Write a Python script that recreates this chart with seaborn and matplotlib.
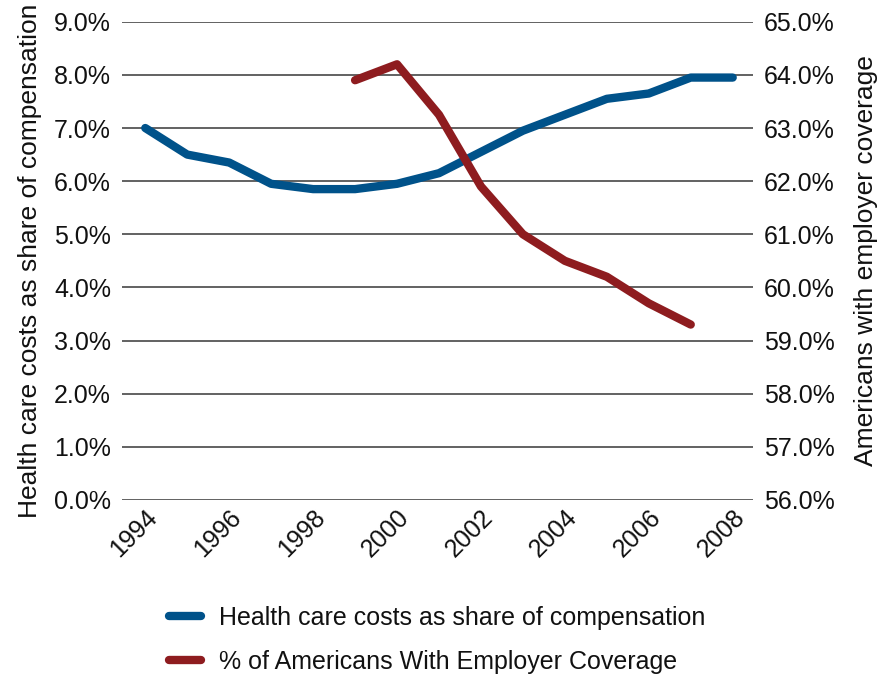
import matplotlib
matplotlib.use("Agg")
import matplotlib.pyplot as plt
import matplotlib.ticker as mticker
import seaborn as sns
import pandas as pd

# data
years = [1994, 1995, 1996, 1997, 1998, 1999, 2000, 2001, 2002, 2003, 2004, 2005, 2006, 2007, 2008]
health_costs = [7.0, 6.5, 6.35, 5.95, 5.85, 5.85, 5.95, 6.15, 6.55, 6.95, 7.25, 7.55, 7.65, 7.95, 7.95]
cov_years = [1999, 2000, 2001, 2002, 2003, 2004, 2005, 2006, 2007]
coverage = [63.9, 64.2, 63.25, 61.9, 61.0, 60.5, 60.2, 59.7, 59.3]
xticks = [1994, 1996, 1998, 2000, 2002, 2004, 2006, 2008]

blue = "#00528A"
red = "#8E1C1F"

sns.set_style("white")
plt.rcParams['font.family'] = ['Liberation Sans', 'DejaVu Sans']
plt.rcParams['text.color'] = '#111111'
plt.rcParams['axes.labelcolor'] = '#111111'
plt.rcParams['xtick.color'] = '#111111'
plt.rcParams['ytick.color'] = '#111111'
fs = 18

fig = plt.figure(figsize=(8.92, 6.81), dpi=100)
ax = fig.add_axes([0.137, 0.266, 0.707, 0.702])
ax2 = ax.twinx()

df1 = pd.DataFrame({'year': years, 'val': health_costs})
df2 = pd.DataFrame({'year': cov_years, 'val': coverage})

sns.lineplot(data=df1, x='year', y='val', ax=ax, color=blue, linewidth=6,
             solid_capstyle='round', solid_joinstyle='round',
             label='Health care costs as share of compensation', legend=False)
sns.lineplot(data=df2, x='year', y='val', ax=ax2, color=red, linewidth=6,
             solid_capstyle='round', solid_joinstyle='round',
             label='% of Americans With Employer Coverage', legend=False)

ax.set_ylim(0, 9)
ax2.set_ylim(56, 65)
ax.set_xlim(1993.45, 2008.48)
ax.set_yticks(range(0, 10))
ax2.set_yticks(range(56, 66))
ax.yaxis.set_major_formatter(mticker.FuncFormatter(lambda v, p: f"{v:.1f}%"))
ax2.yaxis.set_major_formatter(mticker.FuncFormatter(lambda v, p: f"{v:.1f}%"))
ax.set_xticks(xticks)
ax.set_xticklabels([str(y) for y in xticks], rotation=45, ha='right',
                   rotation_mode='anchor', fontsize=fs)

for a in (ax, ax2):
    for s in a.spines.values():
        s.set_visible(False)
    a.tick_params(axis='y', labelsize=fs, length=0, pad=8)
ax.tick_params(axis='x', length=0, pad=4)

ax.grid(axis='y', color='#555555', linewidth=1.3)
ax.set_axisbelow(True)
ax2.grid(False)

ax.set_xlabel('')
ax.set_ylabel('Health care costs as share of compensation', fontsize=19, labelpad=9)
ax2.set_ylabel('Americans with employer coverage', fontsize=19, labelpad=14)

h1, l1 = ax.get_legend_handles_labels()
h2, l2 = ax2.get_legend_handles_labels()
fig.legend(h1 + h2, l1 + l2, loc='upper left', bbox_to_anchor=(0.178, 0.125),
           frameon=False, fontsize=fs, handlelength=1.3, handletextpad=0.7,
           labelspacing=0.8, borderaxespad=0)

fig.savefig('out.png', dpi=100)
